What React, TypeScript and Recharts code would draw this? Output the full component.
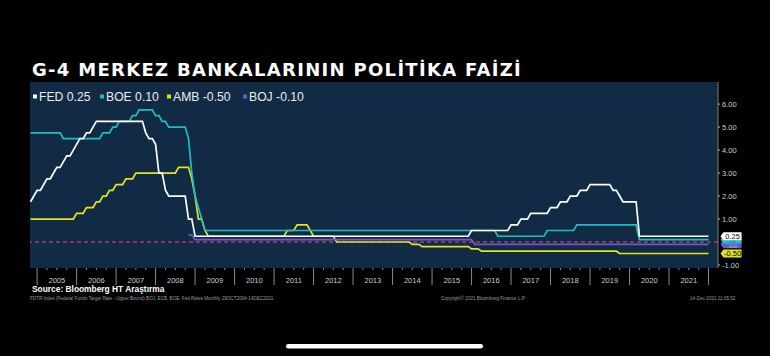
import React from "react";
import { LineChart, Line, XAxis, YAxis, CartesianGrid, ReferenceLine } from "recharts";

// ---------- DATA (month-end observations, "YYYY-MM") ----------
const FED_MONTHS = [
  "2004-10", "2004-11", "2004-12", "2005-01", "2005-02", "2005-03", "2005-04", "2005-05", "2005-06",
  "2005-07", "2005-08", "2005-09", "2005-10", "2005-11", "2005-12", "2006-01", "2006-02", "2006-03",
  "2006-04", "2006-05", "2006-06", "2007-08", "2007-09", "2007-10", "2007-11", "2007-12", "2008-01",
  "2008-02", "2008-03", "2008-04", "2008-09", "2008-10", "2008-11", "2008-12", "2015-11", "2015-12",
  "2016-11", "2016-12", "2017-02", "2017-03", "2017-05", "2017-06", "2017-11", "2017-12", "2018-02",
  "2018-03", "2018-05", "2018-06", "2018-08", "2018-09", "2018-11", "2018-12", "2019-06", "2019-07",
  "2019-08", "2019-09", "2019-10", "2020-02", "2020-03", "2021-12",
];
const FED_RATES = [
  1.75, 2.0, 2.25, 2.25, 2.5, 2.75, 2.75, 3.0, 3.25,
  3.25, 3.5, 3.75, 3.75, 4.0, 4.25, 4.5, 4.5, 4.75,
  4.75, 5.0, 5.25, 5.25, 4.75, 4.5, 4.5, 4.25, 3.0,
  3.0, 2.25, 2.0, 2.0, 1.0, 1.0, 0.25, 0.25, 0.5,
  0.5, 0.75, 0.75, 1.0, 1.0, 1.25, 1.25, 1.5, 1.5,
  1.75, 1.75, 2.0, 2.0, 2.25, 2.25, 2.5, 2.5, 2.25,
  2.25, 2.0, 1.75, 1.75, 0.25, 0.25,
];

const BOE_MONTHS = [
  "2004-10", "2005-07", "2005-08", "2006-07", "2006-08", "2006-10", "2006-11", "2006-12", "2007-01",
  "2007-04", "2007-05", "2007-06", "2007-07", "2007-11", "2007-12", "2008-01", "2008-02", "2008-03",
  "2008-04", "2008-09", "2008-10", "2008-11", "2008-12", "2009-01", "2009-02", "2009-03", "2016-07",
  "2016-08", "2017-10", "2017-11", "2018-07", "2018-08", "2020-02", "2020-03", "2021-12",
];
const BOE_RATES = [
  4.75, 4.75, 4.5, 4.5, 4.75, 4.75, 5.0, 5.0, 5.25,
  5.25, 5.5, 5.5, 5.75, 5.75, 5.5, 5.5, 5.25, 5.25,
  5.0, 5.0, 4.5, 3.0, 2.0, 1.5, 1.0, 0.5, 0.5,
  0.25, 0.25, 0.5, 0.5, 0.75, 0.75, 0.1, 0.1,
];

const AMB_MONTHS = [
  "2004-10", "2005-11", "2005-12", "2006-02", "2006-03", "2006-05", "2006-06", "2006-07", "2006-08",
  "2006-09", "2006-10", "2006-11", "2006-12", "2007-02", "2007-03", "2007-05", "2007-06", "2008-06",
  "2008-07", "2008-10", "2008-11", "2008-12", "2009-01", "2009-02", "2009-03", "2009-04", "2011-03",
  "2011-04", "2011-06", "2011-07", "2011-10", "2011-11", "2011-12", "2012-06", "2012-07", "2014-05",
  "2014-06", "2014-08", "2014-09", "2015-11", "2015-12", "2016-02", "2016-03", "2019-08", "2019-09",
  "2021-12",
];
const AMB_RATES = [
  1.0, 1.0, 1.25, 1.25, 1.5, 1.5, 1.75, 1.75, 2.0,
  2.0, 2.25, 2.25, 2.5, 2.5, 2.75, 2.75, 3.0, 3.0,
  3.25, 3.25, 2.75, 2.0, 1.0, 1.0, 0.5, 0.25, 0.25,
  0.5, 0.5, 0.75, 0.75, 0.5, 0.25, 0.25, 0.0, 0.0,
  -0.1, -0.1, -0.2, -0.2, -0.3, -0.3, -0.4, -0.4, -0.5,
  -0.5,
];

const BOJ_MONTHS = ["2008-10", "2008-11", "2008-12", "2015-12", "2016-01", "2021-12"];
const BOJ_RATES = [0.3, 0.3, 0.1, 0.1, -0.1, -0.1];

const YEAR_LABELS = ["2005", "2006", "2007", "2008", "2009", "2010", "2011", "2012", "2013",
  "2014", "2015", "2016", "2017", "2018", "2019", "2020", "2021"];
const Y_TICKS = [-1, 1, 2, 3, 4, 5, 6];

const TITLE = "G-4 MERKEZ BANKALARININ POLİTİKA FAİZİ";
const SOURCE = "Source: Bloomberg HT Araştırma";
const FOOT_LEFT = "FDTR Index (Federal Funds Target Rate - Upper Bound) BOJ, ECB, BOE, Fed Rates  Monthly 29OCT2004-14DEC2021";
const FOOT_MID = "Copyright© 2021 Bloomberg Finance L.P.";
const FOOT_RIGHT = "14-Dec-2021 11:05:52";

// ---------- LAYOUT / STYLE ----------
const W = 770;
const H = 356;
const M_LEFT = 30;
const PLOT_TOP = 82;
const PLOT_W = 688;
const Y_AXIS_W = 52;
const X_AXIS_H = 20;
const PLOT_BOTTOM = 268;
const X_MIN = 2004.82;
const X_MAX = 2022.24;
const Y_MIN = -1.13;
const Y_MAX = 6.96;
const PX_PER_YEAR = PLOT_W / (X_MAX - X_MIN);
const FONT = "Liberation Sans, Arial, sans-serif";

const toT = (m: string) => {
  const [y, mo] = m.split("-").map(Number);
  return y + mo / 12;
};
const build = (months: string[], vals: number[]) => months.map((m, i) => ({ t: toT(m), v: vals[i] }));

const SERIES = [
  { key: "AMB", color: "#e4e41c", months: AMB_MONTHS, rates: AMB_RATES, textColor: "#000", tagFont: 7.5, tagDy: 2.6 },
  { key: "BOJ", color: "#6b5ad2", months: BOJ_MONTHS, rates: BOJ_RATES, textColor: "#cfcfe8", tagFont: 3.8, tagDy: 3.6 },
  { key: "BOE", color: "#22bcc6", months: BOE_MONTHS, rates: BOE_RATES, textColor: "#0a6f78", tagFont: 3.2, tagDy: 3.6 },
  { key: "FED", color: "#ffffff", months: FED_MONTHS, rates: FED_RATES, textColor: "#000", tagFont: 7.5, tagDy: 2.6 },
];
const LEGEND_ORDER = ["FED", "BOE", "AMB", "BOJ"];
const LEGEND_X = [33, 100, 167, 243];

const xTicks: number[] = [];
for (let q = 0; q <= 17 * 4; q++) xTicks.push(2005 + q / 4);

const XTick = (props: any) => {
  const { x, y, payload } = props;
  const val = payload.value as number;
  const isYear = Math.abs(val - Math.round(val)) < 1e-6;
  if (!isYear) {
    return <line x1={x} y1={y} x2={x} y2={y + 2} stroke="#8a8a8a" strokeWidth={1} />;
  }
  const idx = Math.round(val) - 2005;
  const label = YEAR_LABELS[idx];
  return (
    <g>
      <line x1={x} y1={y} x2={x} y2={y + 17} stroke="#8a8a8a" strokeWidth={1} />
      {label && (
        <text x={x + PX_PER_YEAR / 2} y={y + 15} textAnchor="middle" fill="#cfcfcf"
          fontSize={7.5} fontFamily={FONT}>{label}</text>
      )}
    </g>
  );
};

const makeTag = (color: string, textColor: string, lastIndex: number, tagFont: number, tagDy: number) => (props: any) => {
  const { x, y, index, value } = props;
  if (index !== lastIndex) return null;
  const x0 = x + 12;
  const h = 4;
  const pts = `${x0},${y} ${x0 + 3},${y - h} ${x0 + 21},${y - h} ${x0 + 21},${y + h} ${x0 + 3},${y + h}`;
  return (
    <g>
      <polygon points={pts} fill={color} />
      <text x={x0 + 12} y={y + tagDy} textAnchor="middle" fill={textColor} fontSize={tagFont}
        fontFamily={FONT}>{Number(value).toFixed(2)}</text>
    </g>
  );
};

export default function App() {
  return (
    <div style={{ position: "absolute", left: 0, top: 0, width: W, height: H, background: "#000", overflow: "hidden" }}>
      <LineChart
        width={W}
        height={H}
        margin={{ top: PLOT_TOP, right: 0, left: M_LEFT, bottom: H - PLOT_BOTTOM - X_AXIS_H }}
      >
        <CartesianGrid fill="#122b45" horizontal={false} vertical={false} stroke="none" />
        <XAxis
          dataKey="t"
          type="number"
          domain={[X_MIN, X_MAX]}
          ticks={xTicks}
          interval={0}
          tick={<XTick />}
          tickLine={false}
          tickSize={0}
          tickMargin={0}
          axisLine={false}
          height={X_AXIS_H}
          allowDuplicatedCategory={false}
        />
        <YAxis
          orientation="right"
          type="number"
          domain={[Y_MIN, Y_MAX]}
          ticks={Y_TICKS}
          interval={0}
          width={Y_AXIS_W}
          tickFormatter={(v: number) => v.toFixed(2)}
          tick={{ fill: "#cfcfcf", fontSize: 7.5, fontFamily: FONT }}
          tickSize={2}
          tickMargin={2}
          tickLine={{ stroke: "#bbbbbb" }}
          axisLine={{ stroke: "#7a7a7a" }}
        />
        <ReferenceLine y={0} stroke="#b23a68" strokeWidth={1.5} strokeDasharray="4 3" />
        {SERIES.map((s) => {
          const data = build(s.months, s.rates);
          return (
            <Line
              key={s.key}
              data={data}
              dataKey="v"
              type="linear"
              stroke={s.color}
              strokeWidth={1.7}
              dot={false}
              activeDot={false}
              isAnimationActive={false}
              label={makeTag(s.color, s.textColor, data.length - 1, s.tagFont, s.tagDy)}
            />
          );
        })}
      </LineChart>
      <svg width={W} height={H} style={{ position: "absolute", left: 0, top: 0, pointerEvents: "none" }}>
        <text x={32} y={76} fill="#ffffff" fontSize={18} fontWeight="bold" letterSpacing={1.3}
          fontFamily="DejaVu Sans, Verdana, sans-serif">{TITLE}</text>
        {LEGEND_ORDER.map((k, i) => {
          const s = SERIES.find((q) => q.key === k)!;
          const last = s.rates[s.rates.length - 1];
          return (
            <g key={k}>
              <rect x={LEGEND_X[i]} y={94.5} width={4} height={4} fill={s.color} />
              <text x={LEGEND_X[i] + 6} y={101} fill="#ececec" fontSize={12.2}
                fontFamily={FONT}>{`${k} ${last.toFixed(2)}`}</text>
            </g>
          );
        })}
        <text x={32} y={292} fill="#ffffff" fontSize={8.4} fontWeight="bold"
          fontFamily={FONT}>{SOURCE}</text>
        <text x={30} y={299.5} fill="#9a9a9a" fontSize={4.6} fontFamily={FONT}>{FOOT_LEFT}</text>
        <text x={441} y={299.5} fill="#9a9a9a" fontSize={4.6} fontFamily={FONT}>{FOOT_MID}</text>
        <text x={690} y={299.5} fill="#9a9a9a" fontSize={4.6} fontFamily={FONT}>{FOOT_RIGHT}</text>
        <rect x={286} y={344} width={197} height={4.5} rx={2.25} fill="#ffffff" />
      </svg>
    </div>
  );
}
